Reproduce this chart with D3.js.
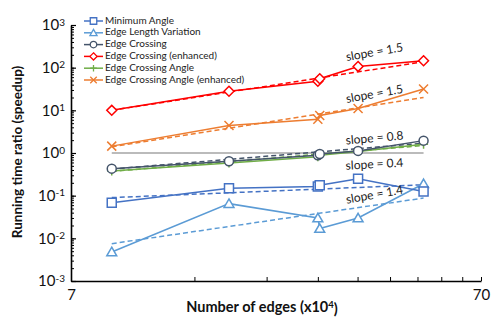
<!DOCTYPE html>
<html>
<head>
<meta charset="utf-8">
<script src="https://cdn.jsdelivr.net/npm/d3@7"></script>
<style>
    body { margin: 0; background: #fff; }
    #chart-container { width: 498px; height: 324px; }
    text { font-family: Lato, "Open Sans", sans-serif; }
</style>
</head>
<body>
<div id="chart-container"></div>
<script>
// number of edges (x10^4)
const edgeCounts = [8.8, 17.0, 28.0, 28.3, 35.1, 50.7];

const seriesNames = [
    "Minimum Angle",
    "Edge Length Variation",
    "Edge Crossing",
    "Edge Crossing (enhanced)",
    "Edge Crossing Angle",
    "Edge Crossing Angle (enhanced)"
];
const seriesColors = ["#4472C4", "#5B9BD5", "#44546A", "#FF0000", "#70AD47", "#ED7D31"];
const seriesMarkers = ["square", "triangle", "circle", "diamond", "plus", "times"];

const minimumAngle = [0.068, 0.15, 0.165, 0.175, 0.25, 0.125];
const edgeLengthVariation = [0.0048, 0.065, 0.03, 0.017, 0.03, 0.19];
const edgeCrossing = [0.43, 0.64, 0.88, 0.95, 1.12, 1.95];
const edgeCrossingEnhanced = [10, 28, 48, 55, 107, 145];
const edgeCrossingAngle = [0.38, 0.58, 0.82, 0.88, 1.08, 1.6];
const edgeCrossingAngleEnhanced = [1.45, 4.4, 6.2, 7.6, 11, 31.6];

// dashed power-law fits: value at first and last edge count
const fitStart = [0.09, 0.0075, 0.42, 10, 0.37, 1.4];
const fitEnd = [0.18, 0.088, 1.7, 138, 1.5, 20];

const slopeLabels = ["slope = 1.5", "slope = 1.5", "slope = 0.8", "slope = 0.4", "slope = 1.4"];
const slopeLabelAt = [220, 23, 2.13, 0.52, 0.1];
const slopeLabelAngle = [-10, -10, -5, -3, -10];

const xTicks = [7, 14, 21, 28, 35, 42, 49, 56, 63, 70];
const xTickLabels = {7: "7", 70: "70"};
const yMajor = [1e-3, 1e-2, 1e-1, 1e0, 1e1, 1e2, 1e3];
const referenceValue = 1;

function markerPath(type, s) {
    const h = s / 2;
    switch (type) {
        case "square": return `M${-h},${-h}H${h}V${h}H${-h}Z`;
        case "triangle": return `M0,${-h * 1.05}L${h * 1.1},${h * 0.85}L${-h * 1.1},${h * 0.85}Z`;
        case "circle": return `M${h},0A${h},${h} 0 1,1 ${-h},0A${h},${h} 0 1,1 ${h},0Z`;
        case "diamond": return `M0,${-h * 1.1}L${h * 1.1},0L0,${h * 1.1}L${-h * 1.1},0Z`;
        case "plus": return `M${-h},0H${h}M0,${-h}V${h}`;
        case "times": return `M${-h},${-h}L${h},${h}M${-h},${h}L${h},${-h}`;
    }
}

class LogLogChart {
    constructor() {
        this.container = d3.select("#chart-container");
        this.margin = {top: 25, right: 17, bottom: 43, left: 71};
        this.init();
        this.render();
    }

    init() {
        const w = 498, h = 324;
        this.width = w - this.margin.left - this.margin.right;
        this.height = h - this.margin.top - this.margin.bottom;

        this.svg = this.container.append("svg")
            .attr("width", w)
            .attr("height", h);

        this.g = this.svg.append("g")
            .attr("transform", `translate(${this.margin.left},${this.margin.top})`);

        this.xScale = d3.scaleLog().domain([7, 70]).range([0, this.width]);
        this.yScale = d3.scaleLog().domain([1e-3, 1e3]).range([this.height, 0]);

        // x axis
        const xAxisG = this.g.append("g")
            .attr("transform", `translate(0,${this.height})`)
            .call(d3.axisBottom(this.xScale)
                .tickValues(xTicks)
                .tickSizeInner(-4)
                .tickSizeOuter(0)
                .tickPadding(8)
                .tickFormat(d => xTickLabels[d] || ""));
        xAxisG.select(".domain").attr("stroke-width", 1.6);
        xAxisG.selectAll(".tick line").attr("stroke-width", 1);
        xAxisG.selectAll("text").attr("font-size", 15).attr("fill", "#111");

        // y axis, minor ticks then major ticks with labels
        const minor = this.g.append("g")
            .call(d3.axisLeft(this.yScale)
                .tickValues(this.yScale.ticks())
                .tickSizeInner(-3)
                .tickSizeOuter(0)
                .tickFormat(""));
        minor.select(".domain").remove();

        const yAxisG = this.g.append("g")
            .call(d3.axisLeft(this.yScale)
                .tickValues(yMajor)
                .tickSizeInner(-5)
                .tickSizeOuter(0)
                .tickPadding(6));
        yAxisG.select(".domain").attr("stroke-width", 1.6);
        yAxisG.selectAll(".tick line").attr("stroke-width", 1.2);
        yAxisG.selectAll("text")
            .attr("font-size", 15)
            .attr("fill", "#111")
            .text("10")
            .append("tspan")
            .attr("dy", "-0.45em")
            .attr("font-size", 10)
            .text(d => Math.round(Math.log10(d)));

        // axis titles
        const xTitle = this.svg.append("text")
            .attr("x", 262)
            .attr("y", 312)
            .attr("text-anchor", "middle")
            .attr("font-size", 14.5)
            .attr("font-weight", "bold")
            .attr("fill", "#111")
            .text("Number of edges (x10");
        xTitle.append("tspan").attr("dy", "-0.45em").attr("font-size", 9.5).text("4");
        xTitle.append("tspan").attr("dy", "0.45em").text(")");

        this.svg.append("text")
            .attr("transform", `translate(22,${this.margin.top + this.height / 2 - 1}) rotate(-90)`)
            .attr("text-anchor", "middle")
            .attr("font-size", 13.5)
            .attr("font-weight", "bold")
            .attr("fill", "#111")
            .text("Running time ratio (speedup)");
    }

    render() {
        const x = this.xScale, y = this.yScale;
        const seriesValues = [minimumAngle, edgeLengthVariation, edgeCrossing,
            edgeCrossingEnhanced, edgeCrossingAngle, edgeCrossingAngleEnhanced];
        const xFirst = edgeCounts[0], xLast = edgeCounts[edgeCounts.length - 1];

        // reference line at ratio 1
        this.g.append("line")
            .attr("x1", x(xFirst)).attr("x2", x(xLast))
            .attr("y1", y(referenceValue)).attr("y2", y(referenceValue))
            .attr("stroke", "#A5A5A5")
            .attr("stroke-width", 1.3);

        const line = d3.line().x(d => x(d[0])).y(d => y(d[1]));
        const order = [1, 0, 4, 2, 5, 3];

        // dashed fits
        order.forEach(i => {
            this.g.append("path")
                .attr("d", line([[xFirst, fitStart[i]], [xLast, fitEnd[i]]]))
                .attr("fill", "none")
                .attr("stroke", seriesColors[i])
                .attr("stroke-width", 1.5)
                .attr("stroke-dasharray", "5,3");
        });

        // measured series
        order.forEach(i => {
            const pts = edgeCounts.map((e, j) => [e, seriesValues[i][j]]);
            this.g.append("path")
                .attr("d", line(pts))
                .attr("fill", "none")
                .attr("stroke", seriesColors[i])
                .attr("stroke-width", 1.5);

            this.g.selectAll(null)
                .data(pts)
                .enter().append("path")
                .attr("transform", d => `translate(${x(d[0])},${y(d[1])})`)
                .attr("d", markerPath(seriesMarkers[i], 9))
                .attr("fill", "#fff")
                .attr("fill-opacity", seriesMarkers[i] === "plus" || seriesMarkers[i] === "times" ? 0 : 1)
                .attr("stroke", seriesColors[i])
                .attr("stroke-width", 1.5);
        });

        // slope annotations
        this.g.selectAll(".slope-label")
            .data(slopeLabels)
            .enter().append("text")
            .attr("class", "slope-label")
            .attr("transform", (d, i) => `translate(${x(38.5)},${y(slopeLabelAt[i])}) rotate(${slopeLabelAngle[i]})`)
            .attr("text-anchor", "middle")
            .attr("dominant-baseline", "middle")
            .attr("font-size", 12)
            .attr("fill", "#222")
            .text(d => d);

        // legend
        const legend = this.svg.append("g").attr("transform", "translate(84,21)");
        seriesNames.forEach((name, i) => {
            const row = legend.append("g").attr("transform", `translate(0,${i * 11.8})`);
            row.append("line")
                .attr("x1", 0).attr("x2", 19)
                .attr("stroke", seriesColors[i])
                .attr("stroke-width", 1.5);
            row.append("path")
                .attr("transform", "translate(9.5,0)")
                .attr("d", markerPath(seriesMarkers[i], 6.5))
                .attr("fill", "#fff")
                .attr("fill-opacity", seriesMarkers[i] === "plus" || seriesMarkers[i] === "times" ? 0 : 1)
                .attr("stroke", seriesColors[i])
                .attr("stroke-width", 1.3);
            row.append("text")
                .attr("x", 21)
                .attr("dominant-baseline", "middle")
                .attr("font-size", 10)
                .attr("fill", "#222")
                .text(name);
        });
    }
}

new LogLogChart();
</script>
</body>
</html>
